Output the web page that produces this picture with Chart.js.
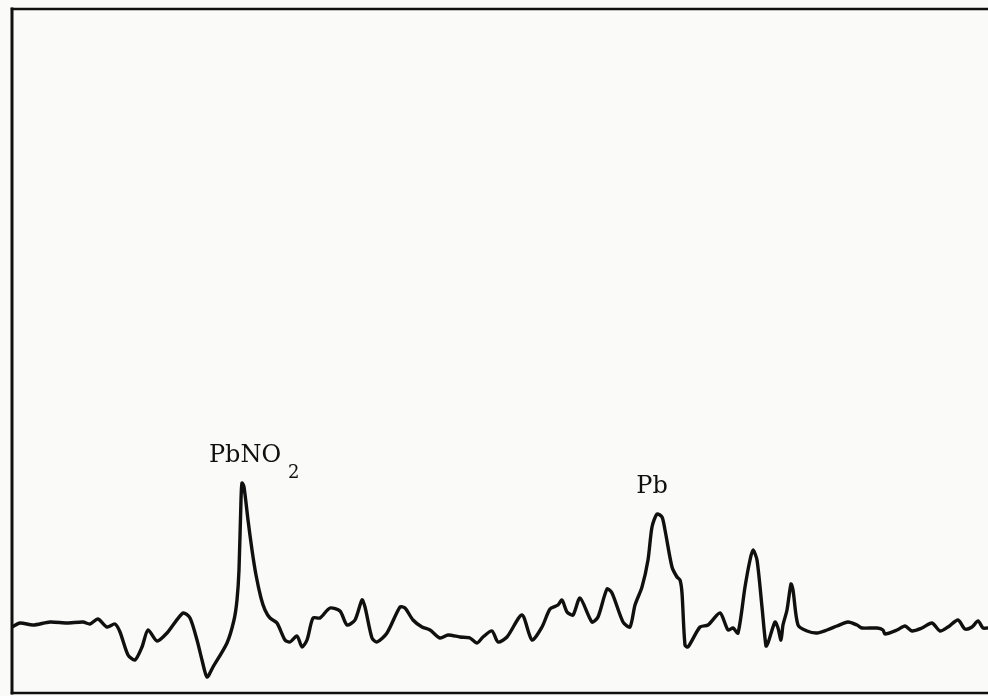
<!DOCTYPE html>
<html>
<head>
<meta charset="utf-8">
<script src="https://cdn.jsdelivr.net/npm/chart.js@4/dist/chart.umd.min.js"></script>
<style>
  html, body { margin: 0; padding: 0; background: #fafaf8; }
  #wrap { width: 988px; height: 696px; }
</style>
</head>
<body>
<div id="wrap"><canvas id="traceChart" width="988" height="696"></canvas></div>

<script>
  // scan position along the trace and recorded signal
  var position = [0, 8, 21, 38, 55, 71, 78, 86, 95, 103, 108, 116, 123, 130, 136, 145, 155, 171, 178, 185,
    190, 195, 201, 215, 222, 225, 227, 229, 230, 232, 236, 240, 244, 249, 253, 258, 265, 273, 278, 285,
    290, 295, 301, 308, 318, 328, 335, 343, 350, 353, 360, 365, 375, 388, 393, 401, 410, 418, 428, 436,
    448, 458, 465, 471, 480, 486, 495, 510, 520, 530, 538, 546, 550, 555, 561, 568, 580, 586, 595, 600,
    611, 618, 623, 630, 636, 640, 645, 650, 653, 660, 665, 668, 670, 673, 676, 688, 696, 708, 716, 721,
    726, 733, 738, 741, 745, 750, 754, 756, 763, 766, 769, 771, 775, 779, 781, 786, 795, 805, 815, 825,
    836, 845, 850, 865, 871, 873, 885, 893, 900, 910, 920, 928, 936, 946, 953, 960, 966, 971, 975];
  var signal = [66, 70, 68, 71, 70, 71, 69, 74, 66, 69, 61, 38, 33, 46, 63, 52, 60, 80, 75, 53,
    33, 16, 26, 50, 73, 93, 123, 193, 210, 206, 173, 143, 118, 95, 83, 75, 70, 53, 51, 57,
    46, 53, 75, 75, 85, 82, 68, 73, 93, 86, 55, 51, 60, 86, 85, 73, 66, 63, 55, 58,
    56, 55, 50, 56, 62, 51, 56, 78, 53, 66, 84, 88, 93, 81, 78, 95, 71, 76, 104, 100,
    71, 66, 88, 106, 133, 166, 179, 176, 163, 126, 116, 113, 100, 48, 46, 66, 68, 80, 63, 65,
    60, 106, 133, 143, 133, 86, 47, 50, 71, 65, 53, 68, 83, 109, 103, 68, 62, 60, 63, 67,
    71, 68, 65, 65, 63, 59, 63, 67, 62, 65, 70, 62, 66, 73, 64, 66, 72, 65, 65];

  // peak labels: text, subscript, position of the peak they name
  var peakNames = ['PbNO', 'Pb'];
  var peakSubs = ['2', ''];
  var peakPos = [230, 645];

  var points = position.map(function (p, i) { return { x: p, y: signal[i] }; });

  var ink = '#101010';

  var framePlugin = {
    id: 'frame',
    beforeDraw: function (chart) {
      var c = chart.ctx;
      c.save();
      c.fillStyle = '#fafaf8';
      c.fillRect(0, 0, chart.width, chart.height);
      c.restore();
    },
    afterDatasetsDraw: function (chart) {
      var a = chart.chartArea;
      var c = chart.ctx;
      c.save();
      c.strokeStyle = ink;
      c.lineCap = 'square';
      c.lineWidth = 3;
      c.beginPath();
      c.moveTo(a.left, a.top);
      c.lineTo(a.left, a.bottom);
      c.stroke();
      c.lineWidth = 2.5;
      c.beginPath();
      c.moveTo(a.left, a.top);
      c.lineTo(chart.width, a.top);
      c.moveTo(a.left, a.bottom);
      c.lineTo(chart.width, a.bottom);
      c.stroke();

      // names above the peaks
      var xs = chart.scales.x, ys = chart.scales.y;
      c.fillStyle = ink;
      c.textBaseline = 'alphabetic';
      peakNames.forEach(function (name, i) {
        var k = position.indexOf(peakPos[i]);
        var px = xs.getPixelForValue(peakPos[i]);
        var py = ys.getPixelForValue(signal[k]) - 21;
        c.font = '24px "DejaVu Serif"';
        c.textAlign = 'center';
        var w = c.measureText(name).width;
        var cx = peakSubs[i] ? px + 3 : px - 5;
        c.fillText(name, cx, py);
        if (peakSubs[i]) {
          c.font = '18px "DejaVu Serif"';
          c.textAlign = 'left';
          c.fillText(peakSubs[i], cx + w / 2 + 7, py + 16);
        }
      });
      c.restore();
    }
  };

  var ctx = document.getElementById('traceChart').getContext('2d');
  var traceChart = new Chart(ctx, {
    type: 'line',
    data: {
      datasets: [{
        data: points,
        borderColor: ink,
        borderWidth: 3.4,
        pointRadius: 0,
        fill: false,
        tension: 0.25,
        borderJoinStyle: 'round',
        borderCapStyle: 'round'
      }]
    },
    options: {
      responsive: false,
      animation: false,
      layout: { padding: { left: 12, top: 9, right: 0, bottom: 3 } },
      plugins: { legend: { display: false }, tooltip: { enabled: false } },
      scales: {
        x: { type: 'linear', min: 0, max: 976, display: false },
        y: { min: 0, max: 684, display: false }
      }
    },
    plugins: [framePlugin]
  });
</script>
</body>
</html>
